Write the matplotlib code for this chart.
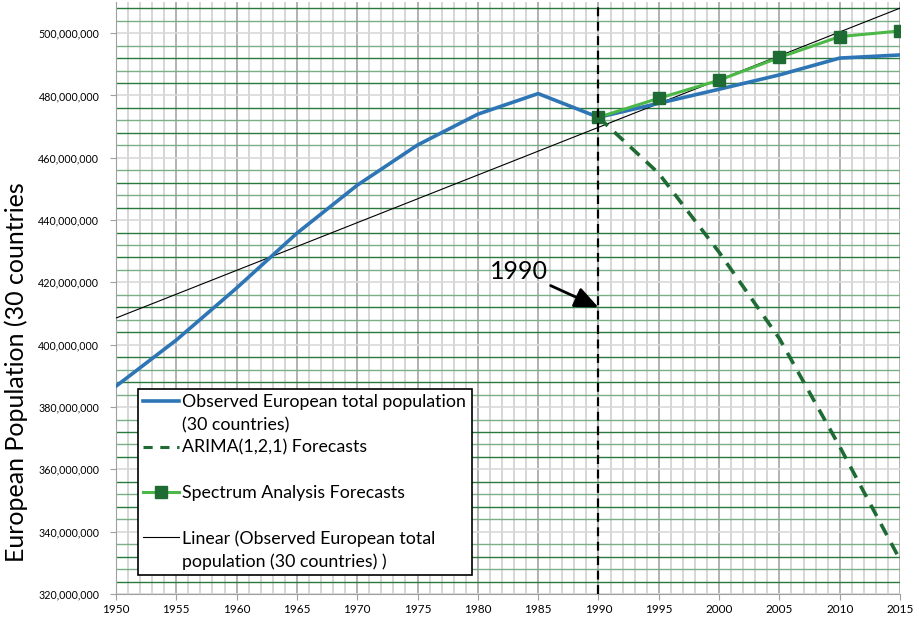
import numpy as np
import matplotlib
matplotlib.use('Agg')
import matplotlib.pyplot as plt
from matplotlib.lines import Line2D
from matplotlib.ticker import FuncFormatter

plt.rcParams['font.family'] = ['Lato', 'DejaVu Sans']

anos = [1950, 1955, 1960, 1965, 1970, 1975, 1980, 1985, 1990, 1995, 2000, 2005, 2010, 2015]
observado = [386.7e6, 401.5e6, 418.2e6, 435.8e6, 451.2e6, 464.1e6, 474.0e6, 480.6e6,
             473.0e6, 477.5e6, 482.0e6, 486.6e6, 492.0e6, 493.0e6]

anos_prev = [1990, 1995, 2000, 2005, 2010, 2015]
arima = [473.0e6, 455.0e6, 429.7e6, 402.0e6, 367.3e6, 331.0e6]
espectro = [473.0e6, 479.1e6, 484.9e6, 492.2e6, 498.9e6, 500.7e6]

rotulos = ['Observed European total population', '(30 countries)',
           'ARIMA(1,2,1) Forecasts', '',
           'Spectrum Analysis Forecasts', '',
           'Linear (Observed European total', 'population (30 countries) )']

azul = '#2e75b6'
verde_escuro = '#1e6b34'
verde_claro = '#4cb848'

fig = plt.figure(figsize=(9.2, 6.22), dpi=100)
ax = fig.add_axes([116/920, 1 - 594/622, (900 - 116)/920, (594 - 2)/622])
ax.set_xlim(1950, 2015)
ax.set_ylim(320e6, 510e6)

# grade: cinza por ano, verde a cada 4 milhoes
for ano in range(1950, 2016):
    cor = '#a6a6a6' if ano % 5 == 0 else '#cfcfcf'
    ax.axvline(ano, color=cor, lw=1.2, zorder=0)
for i, v in enumerate(np.arange(320e6, 510e6 + 1, 4e6)):
    if v % 20e6 == 0:
        ax.axhline(v, color='#d9d9d9', lw=1.2, zorder=1)
    else:
        cor = '#2a7a3e' if i % 2 else '#7aae86'
        ax.axhline(v, color=cor, lw=1.0, zorder=1)

m, b = np.polyfit(anos, observado, 1)
tendencia = m*np.array(anos) + b

ax.plot(anos, tendencia, color='black', lw=0.8, zorder=3)
ax.plot(anos, observado, color=azul, lw=2.6, zorder=4, solid_joinstyle='round')
ax.plot(anos_prev, arima, color=verde_escuro, lw=2.6, ls=(0, (3.5, 2.5)), zorder=3)
ax.plot(anos_prev, espectro, color=verde_claro, lw=2.2, marker='s', ms=8,
        mfc=verde_escuro, mec=verde_escuro, zorder=5)

ax.axvline(1990, color='black', lw=1.6, ls=(0, (4, 2.5)), zorder=6)

ax.annotate('1990', xy=(1990, 412e6), xytext=(1983.4, 423.5e6), fontsize=18,
            ha='center', va='center',
            arrowprops=dict(arrowstyle='-|>,head_length=0.8,head_width=0.35',
                            color='black', lw=2, relpos=(0.95, 0.0),
                            shrinkA=0, shrinkB=0))

ax.set_xticks(range(1950, 2016, 5))
ax.set_yticks(np.arange(320e6, 500e6 + 1, 20e6))
ax.yaxis.set_major_formatter(FuncFormatter(lambda v, p: f'{v:,.0f}'))
ax.tick_params(axis='y', labelsize=7.7, length=4, color='#a0a0a0', pad=8)
ax.tick_params(axis='x', labelsize=8.5, length=4, color='#a0a0a0', pad=3)
for lado in ['top', 'right']:
    ax.spines[lado].set_visible(False)
for lado in ['left', 'bottom']:
    ax.spines[lado].set_color('#a0a0a0')

fig.text(16/920, 1 - 562/622, 'European Population (30 countries', rotation=90,
         fontsize=18, ha='center', va='bottom')

vazio = Line2D([], [], color='none')
alcas = [Line2D([], [], color=azul, lw=2.6), vazio,
         Line2D([], [], color=verde_escuro, lw=2.2, ls=(0, (3, 2.5))), vazio,
         Line2D([], [], color=verde_claro, lw=2.2, marker='s', ms=8,
                mfc=verde_escuro, mec=verde_escuro), vazio,
         Line2D([], [], color='black', lw=0.8), vazio]
leg = ax.legend(alcas, rotulos, loc='upper left', bbox_to_anchor=(138/920, 1 - 389/622),
                bbox_transform=fig.transFigure, borderaxespad=0, fontsize=12.8,
                handlelength=2.0, handletextpad=0.2, borderpad=0.3, labelspacing=0.37,
                fancybox=False, framealpha=1, edgecolor='black')
leg.get_frame().set_linewidth(1.2)
leg.set_zorder(10)

fig.savefig('out.png', dpi=100)
